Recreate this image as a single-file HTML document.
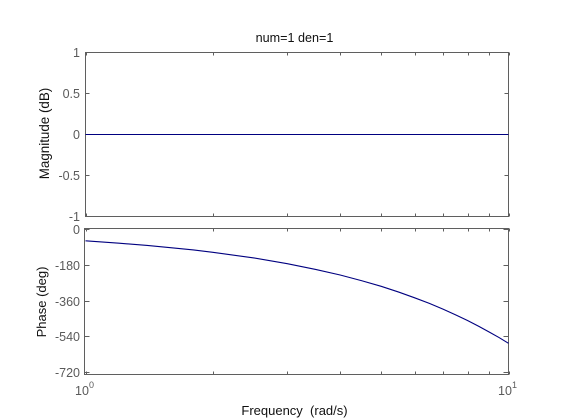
<!DOCTYPE html>
<html>
<head>
<meta charset="utf-8">
<style>
html,body{margin:0;padding:0;background:#fff;width:561px;height:420px;overflow:hidden}
svg{display:block;font-family:"Liberation Sans",Arial,sans-serif}
</style>
</head>
<body>
<svg id="chart" xmlns="http://www.w3.org/2000/svg" width="561" height="420" viewBox="0 0 561 420"></svg>
<script>
const frequencies = [1,1.2,1.4,1.6,1.8,2,2.5,3,3.5,4,4.5,5,5.5,6,6.5,7,7.5,8,8.5,9,9.5,10];
const magnitudeValues = [0,0,0,0,0,0,0,0,0,0,0,0,0,0,0,0,0,0,0,0,0,0];
const phaseValues = [-57,-69,-80,-92,-103,-115,-143,-172,-201,-229,-258,-286,-315,-344,-372,-401,-430,-458,-487,-516,-544,-573];
const magnitudeTicks = [1,0.5,0,-0.5,-1];
const magnitudeTickLabels = ['1','0.5','0','-0.5','-1'];
const phaseTicks = [0,-180,-360,-540,-720];
const phaseTickLabels = ['0','-180','-360','-540','-720'];
const frequencyTicks = [1,2,3,4,5,6,7,8,9,10];
const decadeTicks = [1,10];
const decadeExponents = ['0','1'];

const svg = document.getElementById('chart');
const NS = 'http://www.w3.org/2000/svg';
const left = 85.5, right = 508.5, phLeft = 84.5;
const magTop = 52.5, magBottom = 216.5;
const phTop = 228.5, phBottom = 374.5;
const phZero = 229.5, phMin = 372.5;
const axisColor = '#5f5f5f', tickText = '#5a5a5a', lineColor = '#000080';

function xScale(w){ return left + (right-left)*Math.log10(w); }
function magY(v){ return magTop + (1-v)/2*(magBottom-magTop); }
function phY(v){ return phZero + (0-v)/720*(phMin-phZero); }

function make(tag, attrs, text){
  const e = document.createElementNS(NS, tag);
  for (const k in attrs) e.setAttribute(k, attrs[k]);
  if (text !== undefined) e.textContent = text;
  svg.appendChild(e);
  return e;
}
function label(name, attrs, text){
  const e = make('text', attrs, text);
  
  
  return e;
}
function seg(name, x1, y1, x2, y2){
  const e = make('line', {x1:x1, y1:y1, x2:x2, y2:y2, stroke:axisColor, 'stroke-width':1});
  
  
  return e;
}
function panel(prefix, boxLeft, top, bottom){
  const box = make('rect', {x:boxLeft, y:top, width:right-boxLeft, height:bottom-top, fill:'#fff', stroke:axisColor, 'stroke-width':1});
  
  
  frequencyTicks.forEach(function(w){
    const x = Math.round(xScale(w)) + 0.5;
    seg(prefix + '-x-tick-top', x, top, x, top + 3);
    seg(prefix + '-x-tick-bottom', x, bottom - 3, x, bottom);
  });
}
function series(name, ys){
  const pts = frequencies.map(function(w, i){ return xScale(w).toFixed(2) + ',' + ys[i].toFixed(2); }).join(' ');
  const e = make('polyline', {points:pts, fill:'none', stroke:lineColor, 'stroke-width':1.1});
  
  
}

panel('magnitude', left, magTop, magBottom);
magnitudeTicks.forEach(function(v, i){
  const y = Math.round(magY(v) - 0.5) + 0.5;
  seg('magnitude-y-tick-left', left, y, left + 4, y);
  seg('magnitude-y-tick-right', right - 4, y, right, y);
  label('magnitude-y-tick-label', {x:80, y:y + 4.5, 'text-anchor':'end', 'font-size':12.5, fill:tickText}, magnitudeTickLabels[i]);
});
series('magnitude-line', magnitudeValues.map(magY));

panel('phase', phLeft, phTop, phBottom);
phaseTicks.forEach(function(v, i){
  const y = Math.round(phY(v) - 0.5) + 0.5;
  seg('phase-y-tick-left', phLeft, y, phLeft + 5, y);
  seg('phase-y-tick-right', right - 5, y, right, y);
  label('phase-y-tick-label', {x:80, y:y + 4.5, 'text-anchor':'end', 'font-size':12.5, fill:tickText}, phaseTickLabels[i]);
});
series('phase-line', phaseValues.map(phY));

decadeTicks.forEach(function(w, i){
  const x = xScale(w);
  label('frequency-tick-label', {x:x - 10.5, y:395, 'font-size':12.5, fill:tickText}, '10');
  label('frequency-tick-exponent', {x:x + 3.5, y:388, 'font-size':9, fill:tickText}, decadeExponents[i]);
});

label('chart-title', {x:294.5, y:42, 'text-anchor':'middle', 'font-size':12.6, fill:'#111'}, 'num=1 den=1');
label('x-axis-title', {x:294.5, y:415, 'text-anchor':'middle', 'font-size':13, fill:'#111', style:'white-space:pre'}, 'Frequency  (rad/s)');
label('magnitude-y-axis-title', {transform:'translate(49,133.5) rotate(-90)', 'text-anchor':'middle', 'font-size':13.4, fill:'#111'}, 'Magnitude (dB)');
label('phase-y-axis-title', {transform:'translate(46,302) rotate(-90)', 'text-anchor':'middle', 'font-size':13, fill:'#111'}, 'Phase (deg)');
</script>
</body>
</html>
